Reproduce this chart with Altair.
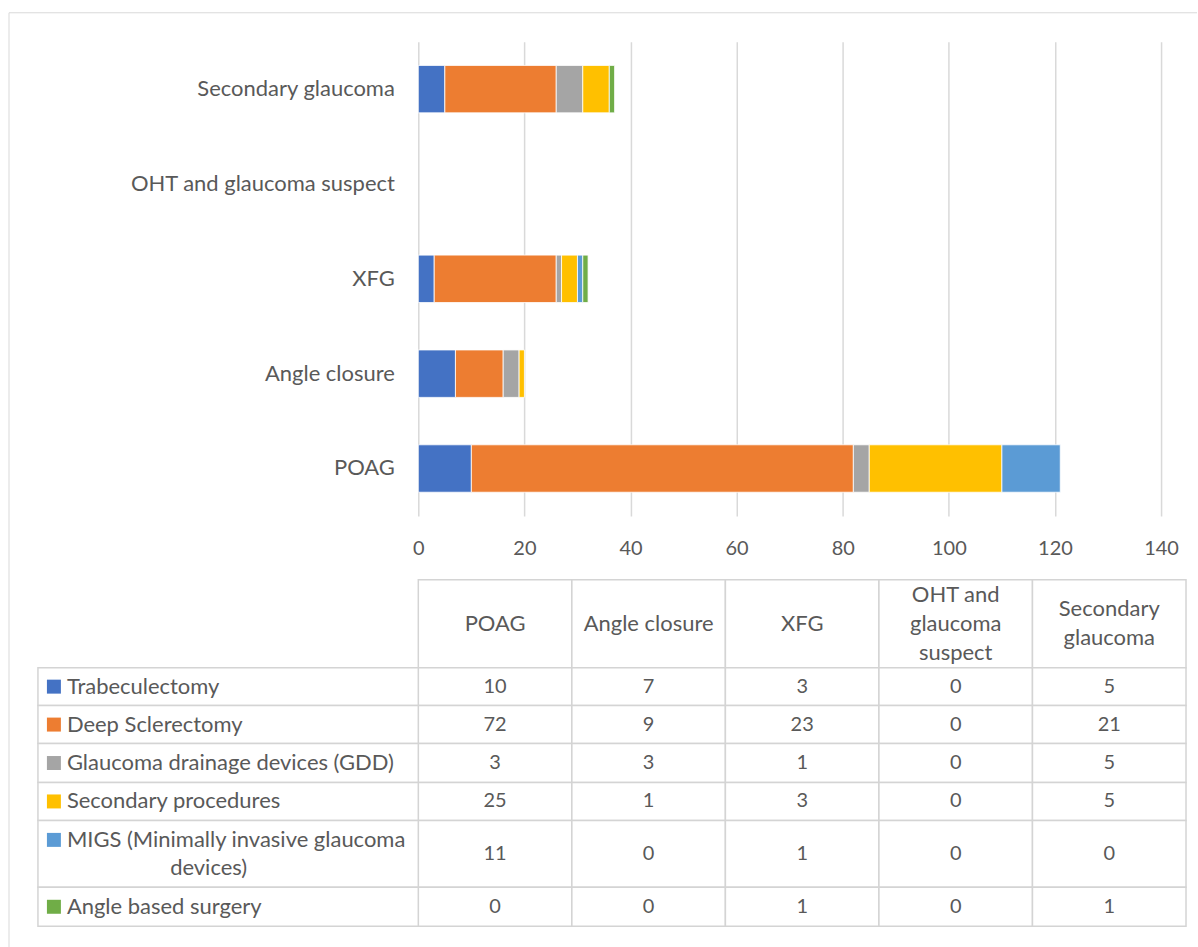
import altair as alt
import pandas as pd

# ---------------- data ----------------
categories = ["POAG", "Angle closure", "XFG", "OHT and glaucoma suspect", "Secondary glaucoma"]
header_labels = ["POAG", "Angle closure", "XFG", "OHT and\nglaucoma\nsuspect", "Secondary\nglaucoma"]
series = [
    "Trabeculectomy",
    "Deep Sclerectomy",
    "Glaucoma drainage devices (GDD)",
    "Secondary procedures",
    "MIGS (Minimally invasive glaucoma devices)",
    "Angle based surgery",
]
series_line1 = [
    "Trabeculectomy",
    "Deep Sclerectomy",
    "Glaucoma drainage devices (GDD)",
    "Secondary procedures",
    "MIGS (Minimally invasive glaucoma",
    "Angle based surgery",
]
series_line2 = ["", "", "", "", "devices)", ""]
trabeculectomy = [10, 7, 3, 0, 5]
deep_sclerectomy = [72, 9, 23, 0, 21]
gdd = [3, 3, 1, 0, 5]
secondary_procedures = [25, 1, 3, 0, 5]
migs = [11, 0, 1, 0, 0]
angle_based = [0, 0, 1, 0, 1]
colors = ["#4472C4", "#ED7D31", "#A5A5A5", "#FFC000", "#5B9BD5", "#70AD47"]
x_ticks = [0, 20, 40, 60, 80, 100, 120, 140]

values = [trabeculectomy, deep_sclerectomy, gdd, secondary_procedures, migs, angle_based]

# ---------------- style / layout ----------------
FONT = "Lato"
FS = 22      # words
FSN = 20     # numbers
TXT = "#595959"
GRID = "#d9d9d9"
LINE = "#d4d4d4"
LH = 29
PLOT_W, PLOT_H = 744, 475
TABLE_W = 769
LABEL_W = 381
row_heights = [88, 38, 38, 39, 38, 67, 39]
TABLE_H = sum(row_heights)
tops = [sum(row_heights[:i]) for i in range(len(row_heights))]

rows = []
for s_i, s in enumerate(series):
    for c_i, c in enumerate(categories):
        rows.append({"series": s, "category": c, "value": values[s_i][c_i], "order": s_i})
df = pd.DataFrame(rows)

color_scale = alt.Scale(domain=series, range=colors)

# ---------------- top bar chart ----------------
bars = (
    alt.Chart(df)
    .transform_filter("datum.value > 0")
    .mark_bar(stroke="white", strokeWidth=0.8)
    .encode(
        x=alt.X(
            "value:Q",
            stack="zero",
            scale=alt.Scale(domain=[0, 140], nice=False),
            axis=alt.Axis(
                values=x_ticks, title=None, grid=True, gridColor=GRID, gridWidth=1.5,
                domain=False, ticks=False, labelPadding=23, labelFontSize=FSN,
                labelColor=TXT, labelFont=FONT, labelFlush=False,
            ),
        ),
        y=alt.Y(
            "category:N",
            sort=list(reversed(categories)),
            scale=alt.Scale(domain=list(reversed(categories)), paddingInner=0.5, paddingOuter=0.25),
            axis=alt.Axis(
                title=None, domain=False, ticks=False, labelPadding=24, labelFontSize=FS,
                labelColor=TXT, labelFont=FONT, labelLimit=500,
            ),
        ),
        color=alt.Color("series:N", scale=color_scale, legend=None),
        order=alt.Order("order:Q"),
    )
)

one = pd.DataFrame({"a": [0]})
frame_top = alt.Chart(one).mark_rule(color=GRID, strokeWidth=1).encode(
    x=alt.value(-410), x2=alt.value(780), y=alt.value(-29)
)
frame_left = alt.Chart(one).mark_rule(color=GRID, strokeWidth=1).encode(
    x=alt.value(-410), y=alt.value(-29), y2=alt.value(907)
)

top = alt.layer(frame_top, frame_left, bars).properties(width=PLOT_W, height=PLOT_H)

# ---------------- data table ----------------
cell_rows = []
for c_i, c in enumerate(categories):
    txt = header_labels[c_i]
    n = txt.count("\n") + 1
    mid = tops[0] + row_heights[0] / 2
    cell_rows.append({"category": c, "top": tops[0], "bottom": tops[0] + row_heights[0],
                      "text": txt, "ty": mid - (n - 1) * LH / 2, "kind": "head"})
    for s_i, s in enumerate(series):
        r = s_i + 1
        mid = tops[r] + row_heights[r] / 2
        cell_rows.append({"category": c, "top": tops[r], "bottom": tops[r] + row_heights[r],
                          "text": str(values[s_i][c_i]), "ty": mid, "kind": "num"})
cells = pd.DataFrame(cell_rows)

lab_rows = []
for s_i, s in enumerate(series):
    r = s_i + 1
    mid = tops[r] + row_heights[r] / 2
    off = 14 if series_line2[s_i] else 0
    lab_rows.append({"series": s, "top": tops[r], "bottom": tops[r] + row_heights[r],
                     "mid1": mid - off, "mid2": mid + off,
                     "line1": series_line1[s_i], "line2": series_line2[s_i]})
labs = pd.DataFrame(lab_rows)

xcat = alt.X("category:N", sort=categories, scale=alt.Scale(paddingInner=0, paddingOuter=0), axis=None)
yscale = alt.Scale(domain=[0, TABLE_H], range=[0, TABLE_H], nice=False, zero=False)

cell_rect = alt.Chart(cells).mark_rect(fill="white", stroke=LINE, strokeWidth=1.5).encode(
    x=xcat,
    y=alt.Y("top:Q", scale=yscale, axis=None),
    y2="bottom:Q",
)
head_text = alt.Chart(cells).transform_filter("datum.kind == 'head'").mark_text(
    font=FONT, fontSize=FS, color=TXT, lineBreak="\n", lineHeight=LH, baseline="middle", align="center"
).encode(
    x=xcat,
    y=alt.Y("ty:Q", scale=yscale, axis=None),
    text="text:N",
)
num_text = alt.Chart(cells).transform_filter("datum.kind == 'num'").mark_text(
    font=FONT, fontSize=FSN, color=TXT, baseline="middle", align="center"
).encode(
    x=xcat,
    y=alt.Y("ty:Q", scale=yscale, axis=None),
    text="text:N",
)
lab_rect = alt.Chart(labs).mark_rect(fill="white", stroke=LINE, strokeWidth=1.5).encode(
    x=alt.value(-LABEL_W), x2=alt.value(0),
    y=alt.Y("top:Q", scale=yscale, axis=None),
    y2="bottom:Q",
)
swatch = alt.Chart(labs).mark_square(size=196, opacity=1).encode(
    x=alt.value(-365),
    y=alt.Y("mid1:Q", scale=yscale, axis=None),
    color=alt.Color("series:N", scale=color_scale, legend=None),
)
lab_text1 = alt.Chart(labs).mark_text(
    font=FONT, fontSize=FS, color=TXT, baseline="middle", align="left"
).encode(
    x=alt.value(-352),
    y=alt.Y("mid1:Q", scale=yscale, axis=None),
    text="line1:N",
)
lab_text2 = alt.Chart(labs).transform_filter("datum.line2 != ''").mark_text(
    font=FONT, fontSize=FS, color=TXT, baseline="middle", align="center"
).encode(
    x=alt.value(-210),
    y=alt.Y("mid2:Q", scale=yscale, axis=None),
    text="line2:N",
)

table = alt.layer(cell_rect, lab_rect, head_text, num_text, swatch, lab_text1, lab_text2).properties(
    width=TABLE_W, height=TABLE_H
)

chart = (
    alt.vconcat(top, table, spacing=64, bounds="flush")
    .properties(padding={"left": 8, "top": 11, "right": 0, "bottom": 0})
    .configure_view(stroke=None)
)

chart.save("out.html", embed_options={"renderer": "svg", "actions": False})
